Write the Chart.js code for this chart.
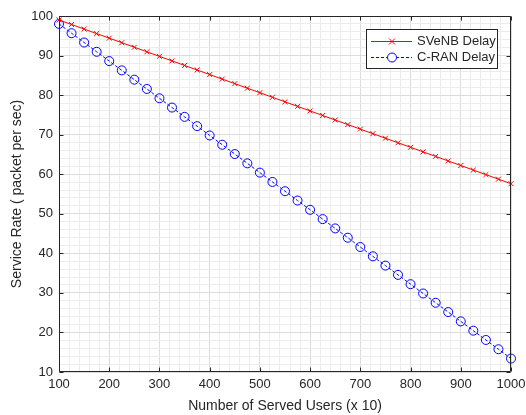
<!DOCTYPE html>
<html>
<head>
<meta charset="utf-8">
<script src="https://cdn.jsdelivr.net/npm/chart.js@4/dist/chart.umd.min.js"></script>
<style>
  html, body { margin: 0; padding: 0; background: #fff; }
  #wrap { width: 526px; height: 415px; }
</style>
</head>
<body>
<div id="wrap"><canvas id="chart" width="526" height="415"></canvas></div>
<script>
// served users (x 10)
const users = [100, 125, 150, 175, 200, 225, 250, 275, 300, 325, 350, 375, 400, 425, 450, 475, 500,
  525, 550, 575, 600, 625, 650, 675, 700, 725, 750, 775, 800, 825, 850, 875, 900, 925, 950, 975, 1000];

// service rate, packet per sec
const svenbDelay = [99.00, 97.85, 96.70, 95.55, 94.40, 93.25, 92.10, 90.95, 89.80, 88.65, 87.50, 86.35,
  85.20, 84.05, 82.90, 81.75, 80.60, 79.45, 78.30, 77.15, 76.00, 74.85, 73.70, 72.55, 71.40, 70.25,
  69.10, 67.95, 66.80, 65.65, 64.50, 63.35, 62.20, 61.05, 59.90, 58.75, 57.60];
const cranDelay = [98.00, 95.65, 93.30, 90.95, 88.60, 86.25, 83.90, 81.55, 79.20, 76.85, 74.50, 72.15,
  69.80, 67.45, 65.10, 62.75, 60.40, 58.05, 55.70, 53.35, 51.00, 48.65, 46.30, 43.95, 41.60, 39.25,
  36.90, 34.55, 32.20, 29.85, 27.50, 25.15, 22.80, 20.45, 18.10, 15.75, 13.40];

const xTickLabels = [100, 200, 300, 400, 500, 600, 700, 800, 900, 1000];
const yTickLabels = [10, 20, 30, 40, 50, 60, 70, 80, 90, 100];

const FONT = "'Liberation Sans', Arial, Helvetica, sans-serif";
const AXIS_COLOR = '#262626';

// box round the axes, with inward tick marks and the legend (matlab look)
const matlabAxes = {
  id: 'matlabAxes',
  afterDatasetsDraw(chart) {
    const { ctx, chartArea: a, scales: { x, y } } = chart;
    const l = Math.round(a.left) + 0.5, r = Math.round(a.right) - 0.5;
    const t = Math.round(a.top) + 0.5, b = Math.round(a.bottom) - 0.5;
    ctx.save();
    ctx.strokeStyle = AXIS_COLOR;
    ctx.lineWidth = 1;
    ctx.beginPath();
    ctx.rect(l, t, r - l, b - t);
    xTickLabels.forEach(v => {
      const px = Math.round(x.getPixelForValue(v)) + 0.5;
      ctx.moveTo(px, b); ctx.lineTo(px, b - 4);
      ctx.moveTo(px, t); ctx.lineTo(px, t + 4);
    });
    yTickLabels.forEach(v => {
      const py = Math.round(y.getPixelForValue(v)) + 0.5;
      ctx.moveTo(l, py); ctx.lineTo(l + 4, py);
      ctx.moveTo(r, py); ctx.lineTo(r - 4, py);
    });
    ctx.stroke();

    // legend
    const lx = 366.5, ly = 29.5, lw = 131, lh = 39;
    ctx.fillStyle = '#fff';
    ctx.fillRect(lx, ly, lw, lh);
    ctx.strokeRect(lx, ly, lw, lh);
    ctx.font = '13px ' + FONT;
    ctx.textBaseline = 'middle';
    ctx.textAlign = 'left';

    // SVeNB entry
    let ey = 41.5;
    ctx.strokeStyle = 'red';
    ctx.beginPath();
    ctx.moveTo(371, ey); ctx.lineTo(412, ey);
    ctx.moveTo(389, ey - 3); ctx.lineTo(395, ey + 3);
    ctx.moveTo(389, ey + 3); ctx.lineTo(395, ey - 3);
    ctx.stroke();
    ctx.fillStyle = AXIS_COLOR;
    ctx.fillText('SVeNB Delay', 417, ey);

    // C-RAN entry
    ey = 57.5;
    ctx.strokeStyle = 'blue';
    ctx.setLineDash([3, 2]);
    ctx.beginPath();
    ctx.moveTo(371, ey); ctx.lineTo(412, ey);
    ctx.stroke();
    ctx.setLineDash([]);
    ctx.fillStyle = '#fff';
    ctx.beginPath();
    ctx.arc(392, ey, 4.5, 0, Math.PI * 2);
    ctx.fill();
    ctx.stroke();
    ctx.fillStyle = AXIS_COLOR;
    ctx.fillText('C-RAN Delay', 417, ey);
    ctx.restore();
  }
};

new Chart(document.getElementById('chart').getContext('2d'), {
  type: 'line',
  data: {
    datasets: [
      {
        label: 'SVeNB Delay',
        data: users.map((u, i) => ({ x: u, y: svenbDelay[i] })),
        borderColor: 'red',
        borderWidth: 1,
        pointStyle: 'crossRot',
        pointRadius: 3.5,
        pointBorderColor: 'red',
        pointBorderWidth: 1,
        backgroundColor: 'transparent',
        clip: false
      },
      {
        label: 'C-RAN Delay',
        data: users.map((u, i) => ({ x: u, y: cranDelay[i] })),
        borderColor: 'blue',
        borderWidth: 1,
        borderDash: [3, 2],
        pointStyle: 'circle',
        pointRadius: 4.5,
        pointBorderColor: 'blue',
        pointBorderWidth: 1,
        pointBackgroundColor: 'transparent',
        backgroundColor: 'transparent',
        clip: false
      }
    ]
  },
  options: {
    responsive: false,
    animation: false,
    devicePixelRatio: 1,
    layout: { padding: { top: 16, right: 15, left: 0, bottom: 0 } },
    plugins: {
      legend: { display: false },
      tooltip: { enabled: false }
    },
    scales: {
      x: {
        type: 'linear',
        min: 100,
        max: 1000,
        afterFit: scale => {
          scale.height = 43;
          scale.paddingLeft = 0;
          scale.paddingRight = 0;
        },
        ticks: {
          stepSize: 20,
          autoSkip: false,
          maxRotation: 0,
          padding: 5,
          color: AXIS_COLOR,
          font: { family: FONT, size: 13 },
          callback: v => xTickLabels.includes(v) ? String(v) : ''
        },
        grid: {
          drawTicks: false,
          color: c => (c.tick && xTickLabels.includes(c.tick.value)) ? '#dcdcdc' : '#ececec'
        },
        border: { display: false },
        title: {
          display: true,
          text: 'Number of Served Users (x 10)',
          color: AXIS_COLOR,
          font: { family: FONT, size: 14 },
          padding: { top: 0, bottom: 0 }
        }
      },
      y: {
        type: 'linear',
        min: 10,
        max: 100,
        afterFit: scale => {
          scale.width = 59;
          scale.paddingTop = 0;
          scale.paddingBottom = 0;
        },
        ticks: {
          stepSize: 2,
          autoSkip: false,
          padding: 6,
          color: AXIS_COLOR,
          font: { family: FONT, size: 13 },
          callback: v => yTickLabels.includes(v) ? String(v) : ''
        },
        grid: {
          drawTicks: false,
          color: c => (c.tick && yTickLabels.includes(c.tick.value)) ? '#dcdcdc' : '#ececec'
        },
        border: { display: false },
        title: {
          display: true,
          text: 'Service Rate ( packet per sec)',
          color: AXIS_COLOR,
          font: { family: FONT, size: 14 },
          padding: { top: 9, bottom: 0 }
        }
      }
    }
  },
  plugins: [matlabAxes]
});
</script>
</body>
</html>
